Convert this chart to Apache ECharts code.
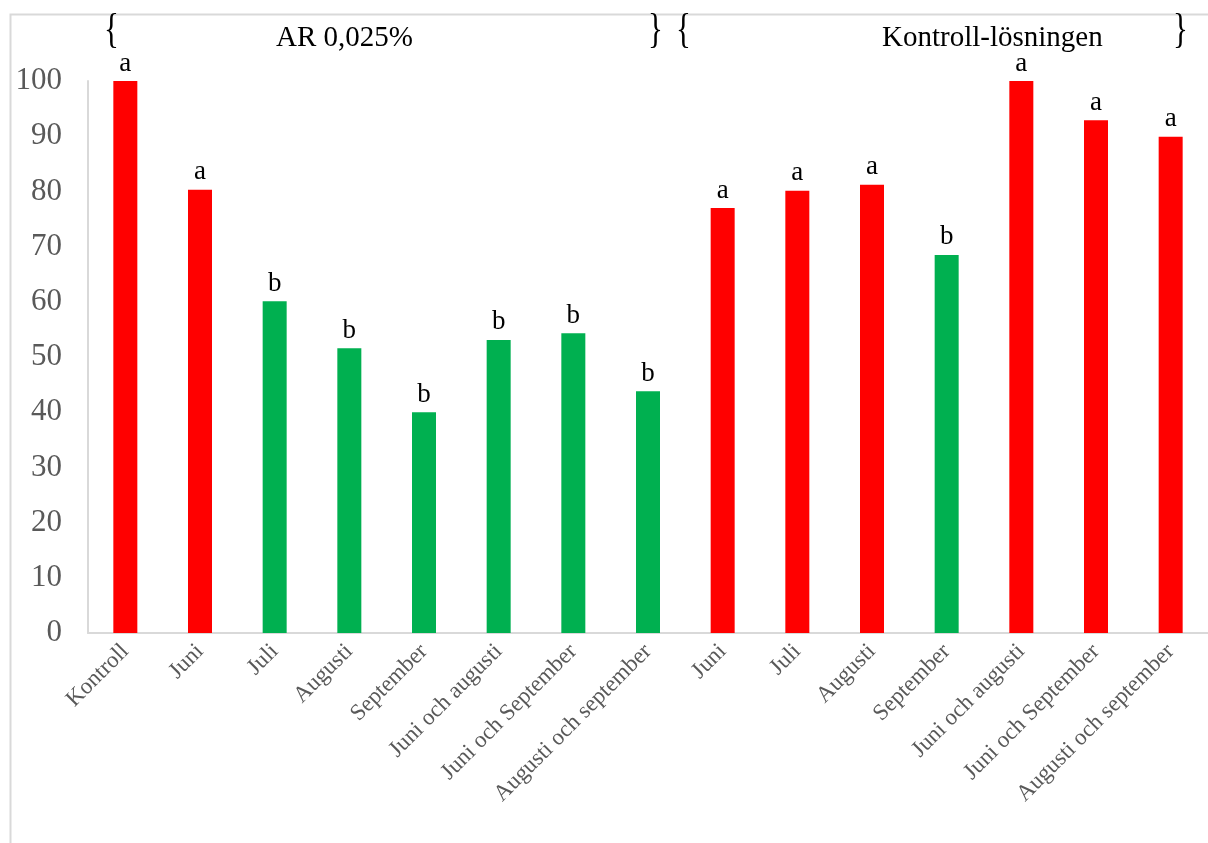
<!DOCTYPE html>
<html>
<head>
<meta charset="utf-8">
<script src="https://cdn.jsdelivr.net/npm/echarts@6/dist/echarts.min.js"></script>
<style>
html,body{margin:0;padding:0;background:#fff;}
#chart{width:1208px;height:843px;}
</style>
</head>
<body>
<div id="chart"></div>
<script>
const categories = ["Kontroll","Juni","Juli","Augusti","September","Juni och augusti","Juni och September","Augusti och september",
  "Juni","Juli","Augusti","September","Juni och augusti","Juni och September","Augusti och september"];
const values = [100, 80.3, 60.1, 51.6, 40.0, 53.1, 54.3, 43.8, 77.0, 80.1, 81.2, 68.5, 100, 92.9, 89.9];
const letters = ["a","a","b","b","b","b","b","b","a","a","a","b","a","a","a"];
const groupLabels = ["AR 0,025%", "Kontroll-lösningen"];
const yTicks = [0,10,20,30,40,50,60,70,80,90,100];

const letterColor = {a: "#FF0000", b: "#00B050"};
const serif = "'Liberation Serif', 'Times New Roman', serif";

const chart = echarts.init(document.getElementById('chart'), null, {renderer: 'canvas'});

function brace(ch, x) {
  return {type: 'text', left: x, top: 10, scaleY: 1.35, style: {text: ch, font: "31px " + serif, fill: '#000'}};
}

chart.setOption({
  backgroundColor: '#fff',
  animation: false,
  grid: {left: 88, right: 0, top: 81, bottom: 210, containLabel: false},
  xAxis: {
    type: 'category',
    data: categories,
    axisLine: {show: true, lineStyle: {color: '#d9d9d9', width: 2}},
    axisTick: {show: false},
    axisLabel: {rotate: 45, interval: 0, margin: 15, color: '#595959', fontFamily: serif, fontSize: 23}
  },
  yAxis: {
    type: 'value',
    min: yTicks[0], max: yTicks[yTicks.length - 1], interval: yTicks[1] - yTicks[0],
    axisLine: {show: true, lineStyle: {color: '#d9d9d9', width: 2}},
    axisTick: {show: false},
    splitLine: {show: false},
    axisLabel: {margin: 26, color: '#595959', fontFamily: serif, fontSize: 31}
  },
  series: [{
    type: 'bar',
    barWidth: 24,
    data: values.map((v, i) => ({value: v, itemStyle: {color: letterColor[letters[i]]}})),
    label: {
      show: true, position: 'top', distance: 4,
      formatter: p => letters[p.dataIndex],
      color: '#000', fontFamily: serif, fontSize: 27
    }
  }],
  graphic: [
    {type: 'rect', left: 8, top: 12, shape: {width: 1300, height: 900}, style: {fill: 'none', stroke: '#d9d9d9', lineWidth: 2}, silent: true, z: -1},
    brace('{', 104),
    brace('}', 648),
    brace('{', 676),
    brace('}', 1173),
    {type: 'text', left: 276, top: 24, style: {text: groupLabels[0], font: "29px " + serif, fill: '#000'}},
    {type: 'text', left: 882, top: 24, style: {text: groupLabels[1], font: "29px " + serif, fill: '#000'}}
  ]
});
</script>
</body>
</html>
